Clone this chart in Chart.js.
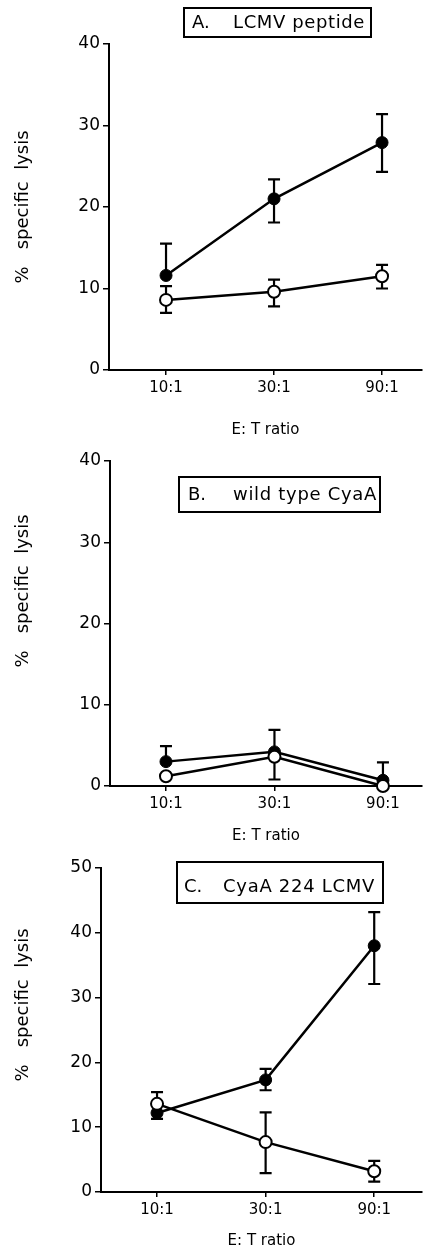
<!DOCTYPE html>
<html>
<head>
<meta charset="utf-8">
<script src="https://cdn.jsdelivr.net/npm/chart.js@4.4.1/dist/chart.umd.min.js"></script>
<style>
  html, body { margin: 0; padding: 0; background: #fff; }
  body { width: 423px; height: 1250px; position: relative; overflow: hidden; }
  .panel { position: absolute; left: 0; width: 423px; }
</style>
</head>
<body>
<div class="panel" style="top:0;height:440px"><canvas id="panelA" width="423" height="440"></canvas></div>
<div class="panel" style="top:440px;height:405px"><canvas id="panelB" width="423" height="405"></canvas></div>
<div class="panel" style="top:845px;height:405px"><canvas id="panelC" width="423" height="405"></canvas></div>
<script>
const ratioLabels = ['10:1', '30:1', '90:1'];

// A. LCMV peptide
const peptideFilled = [11.6, 21.0, 27.9];
const peptideFilledHi = [15.5, 23.4, 31.4];
const peptideFilledLo = [11.6, 18.1, 24.3];
const peptideOpen = [8.6, 9.6, 11.5];
const peptideOpenHi = [10.3, 11.1, 12.9];
const peptideOpenLo = [7.0, 7.8, 10.0];

// B. wild type CyaA
const wildFilled = [3.0, 4.2, 0.7];
const wildFilledHi = [4.9, 6.9, 2.9];
const wildFilledLo = [3.0, 4.2, 0.7];
const wildOpen = [1.2, 3.6, 0.0];
const wildOpenHi = [1.2, 3.6, 0.0];
const wildOpenLo = [1.2, 0.8, 0.0];

// C. CyaA 224 LCMV
const fusionFilled = [12.2, 17.3, 38.0];
const fusionFilledHi = [12.2, 19.0, 43.2];
const fusionFilledLo = [11.3, 15.7, 32.1];
const fusionOpen = [13.6, 7.7, 3.2];
const fusionOpenHi = [15.4, 12.3, 4.8];
const fusionOpenLo = [13.6, 2.9, 1.6];

const FONT = '"DejaVu Sans", Verdana, sans-serif';

// vertical error bars with caps, drawn under the markers
const errorBars = {
  id: 'errorBars',
  beforeDatasetsDraw(chart) {
    const { ctx, scales: { x, y } } = chart;
    ctx.save();
    ctx.strokeStyle = '#000';
    ctx.lineWidth = 2.2;
    chart.data.datasets.forEach(ds => {
      ds.data.forEach((pt, i) => {
        const px = x.getPixelForValue(pt.x);
        const hi = y.getPixelForValue(ds.errHi[i]);
        const lo = y.getPixelForValue(ds.errLo[i]);
        if (hi === lo) return;
        ctx.beginPath();
        ctx.moveTo(px, hi);
        ctx.lineTo(px, lo);
        if (ds.errHi[i] > pt.y) { ctx.moveTo(px - 6, hi); ctx.lineTo(px + 6, hi); }
        if (ds.errLo[i] < pt.y) { ctx.moveTo(px - 6, lo); ctx.lineTo(px + 6, lo); }
        ctx.stroke();
      });
    });
    ctx.restore();
  }
};

// boxed panel title + y axis title
const panelLabel = {
  id: 'panelLabel',
  afterDraw(chart, args, opts) {
    const ctx = chart.ctx;
    const [bx, by, bw, bh] = opts.box;
    ctx.save();
    ctx.fillStyle = '#fff';
    ctx.fillRect(bx, by, bw, bh);
    ctx.strokeStyle = '#000';
    ctx.lineWidth = 2;
    ctx.strokeRect(bx, by, bw, bh);
    ctx.fillStyle = '#000';
    ctx.textBaseline = 'middle';
    ctx.font = '18px ' + FONT;
    ctx.fillText(opts.letter, opts.letterX, opts.textY);
    const w = ctx.measureText(opts.text).width;
    ctx.letterSpacing = ((opts.textW - w) / opts.text.length).toFixed(2) + 'px';
    ctx.fillText(opts.text, opts.textX, opts.textY);
    ctx.letterSpacing = '0px';
    ctx.translate(opts.yTitle[0], opts.yTitle[1]);
    ctx.rotate(-Math.PI / 2);
    ctx.textAlign = 'center';
    ctx.font = '18px ' + FONT;
    ctx.fillText('%   specific  lysis', 0, 0);
    ctx.restore();
  }
};

function series(vals, hi, lo, filled) {
  return {
    data: vals.map((v, i) => ({ x: i, y: v })),
    errHi: hi,
    errLo: lo,
    borderColor: '#000',
    borderWidth: 2.5,
    pointRadius: 6,
    pointBorderWidth: filled ? 1 : 2,
    pointBackgroundColor: filled ? '#000' : '#fff',
    pointBorderColor: '#000',
    clip: false,
    tension: 0
  };
}

function makePanel(id, p) {
  new Chart(document.getElementById(id), {
    type: 'line',
    data: {
      datasets: [
        series(p.open, p.openHi, p.openLo, false),
        series(p.filled, p.filledHi, p.filledLo, true)
      ]
    },
    options: {
      responsive: false,
      animation: false,
      layout: { autoPadding: false, padding: { top: p.top, right: 1, left: 0, bottom: 0 } },
      plugins: {
        legend: { display: false },
        tooltip: { enabled: false },
        panelLabel: p.label
      },
      scales: {
        x: {
          type: 'linear',
          min: p.xMin,
          max: p.xMax,
          afterBuildTicks: s => { s.ticks = ratioLabels.map((_, i) => ({ value: i })); },
          afterFit: s => { s.height = p.xHeight; s.paddingLeft = 0; s.paddingRight = 0; },
          ticks: {
            autoSkip: false,
            maxRotation: 0,
            padding: 4,
            color: '#000',
            font: { family: FONT, size: 15 },
            callback: v => ratioLabels[v]
          },
          grid: { drawOnChartArea: false, tickLength: 5, color: '#000', lineWidth: 1.5 },
          border: { display: true, color: '#000', width: 2 },
          title: {
            display: true,
            text: 'E: T ratio',
            color: '#000',
            font: { family: FONT, size: 15 },
            padding: { top: 0, bottom: p.xTitlePad }
          }
        },
        y: {
          min: 0,
          max: p.yMax,
          afterFit: s => { s.width = p.yWidth; s.paddingTop = 0; s.paddingBottom = 0; },
          ticks: {
            stepSize: 10,
            padding: 3,
            color: '#000',
            font: { family: FONT, size: 17 }
          },
          grid: { drawOnChartArea: false, tickLength: 6, color: '#000', lineWidth: 1.5 },
          border: { display: true, color: '#000', width: 2 }
        }
      }
    },
    plugins: [errorBars, panelLabel]
  });
}

makePanel('panelA', {
  filled: peptideFilled, filledHi: peptideFilledHi, filledLo: peptideFilledLo,
  open: peptideOpen, openHi: peptideOpenHi, openLo: peptideOpenLo,
  yMax: 40, top: 44, yWidth: 109, xHeight: 70, xTitlePad: 1,
  xMin: -0.528, xMax: 2.37,
  label: { box: [184, 8, 187, 29], letter: 'A.', letterX: 192, text: 'LCMV peptide', textX: 233, textW: 132, textY: 23, yTitle: [23, 207] }
});

makePanel('panelB', {
  filled: wildFilled, filledHi: wildFilledHi, filledLo: wildFilledLo,
  open: wildOpen, openHi: wildOpenHi, openLo: wildOpenLo,
  yMax: 40, top: 21, yWidth: 110, xHeight: 59, xTitlePad: 0,
  xMin: -0.516, xMax: 2.36,
  label: { box: [179, 37, 201, 35], letter: 'B.', letterX: 188, text: 'wild type CyaA', textX: 233, textW: 144, textY: 55, yTitle: [23, 151] }
});

makePanel('panelC', {
  filled: fusionFilled, filledHi: fusionFilledHi, filledLo: fusionFilledLo,
  open: fusionOpen, openHi: fusionOpenHi, openLo: fusionOpenLo,
  yMax: 50, top: 23, yWidth: 101, xHeight: 58, xTitlePad: 0,
  xMin: -0.516, xMax: 2.44,
  label: { box: [177, 17, 206, 41], letter: 'C.', letterX: 184, text: 'CyaA 224 LCMV', textX: 223, textW: 152, textY: 42, yTitle: [23, 160] }
});
</script>
</body>
</html>
